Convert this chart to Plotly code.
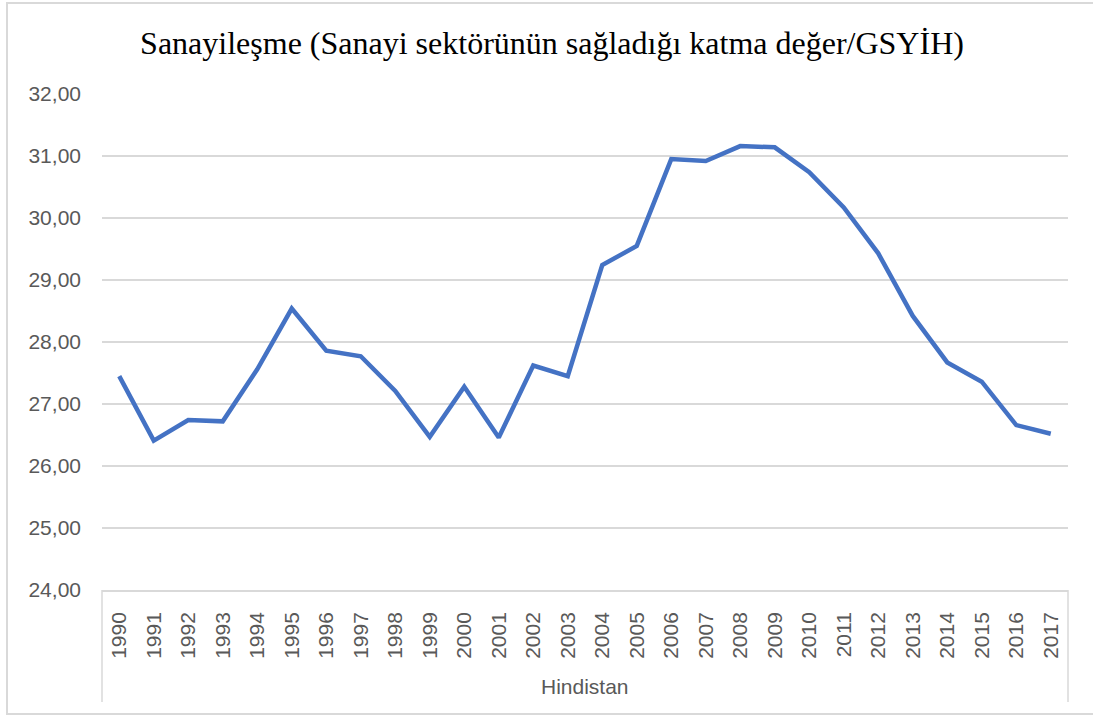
import plotly.graph_objects as go

years = [str(y) for y in range(1990, 2018)]
values = [27.45, 26.41, 26.74, 26.72, 27.56, 28.54, 27.86, 27.77, 27.21, 26.47,
          27.28, 26.46, 27.62, 27.45, 29.24, 29.55, 30.95, 30.92, 31.16, 31.14,
          30.74, 30.17, 29.43, 28.42, 27.67, 27.36, 26.66, 26.52]
y_ticks = [24, 25, 26, 27, 28, 29, 30, 31, 32]
group_label = "Hindistan"
title_text = "Sanayileşme (Sanayi sektörünün sağladığı katma değer/GSYİH)"

W, H = 1093, 716
L, R, T, B = 102, 25, 94, 126
pw, ph = W - L - R, H - T - B

def px_x(x):
    return (x - L) / pw

def px_y(y):
    return (H - B - y) / ph

grid = "#D9D9D9"
txt = "#595959"
sans = "Liberation Sans, Arial, sans-serif"

fig = go.Figure()
fig.add_trace(go.Scatter(
    x=years, y=values, mode="lines",
    line=dict(color="#4472C4", width=4.5),
    showlegend=False, hoverinfo="x+y",
))

fig.update_layout(
    width=W, height=H,
    margin=dict(l=L, r=R, t=T, b=B),
    paper_bgcolor="white", plot_bgcolor="white",
    separators=",.",
    title=dict(text=title_text, x=552 / W, xref="container", xanchor="center",
               y=1 - 43 / H, yref="container", yanchor="middle",
               font=dict(family="Times New Roman, Liberation Serif, serif", size=32, color="black")),
    xaxis=dict(type="category", range=[-0.5, 27.5], tickangle=-90,
               showgrid=False, showline=True, linecolor=grid, linewidth=1.5,
               ticks="", tickfont=dict(family=sans, size=21, color=txt),
               ticklabelstandoff=12, fixedrange=True),
    yaxis=dict(range=[24, 32], tickvals=y_ticks, tickformat=".2f",
               showgrid=True, gridcolor=grid, gridwidth=1.5,
               zeroline=False, showline=False, ticks="",
               tickfont=dict(family=sans, size=21, color=txt),
               ticklabelstandoff=20, fixedrange=True),
    shapes=[
        dict(type="rect", xref="paper", yref="paper",
             x0=px_x(7), x1=px_x(1110), y0=px_y(714), y1=px_y(3),
             line=dict(color=grid, width=2), fillcolor="rgba(0,0,0,0)", layer="below"),
        dict(type="line", xref="paper", yref="paper",
             x0=0, x1=0, y0=px_y(702), y1=0, line=dict(color=grid, width=1.5)),
        dict(type="line", xref="paper", yref="paper",
             x0=1, x1=1, y0=px_y(702), y1=0, line=dict(color=grid, width=1.5)),
    ],
    annotations=[
        dict(text=group_label, xref="paper", yref="paper", x=0.5, y=px_y(686),
             xanchor="center", yanchor="middle", showarrow=False,
             font=dict(family=sans, size=21, color=txt)),
    ],
)

fig.write_html("out.html",
               config={"displayModeBar": False},
               post_script="document.body.style.margin='0';document.body.style.overflow='hidden';")
